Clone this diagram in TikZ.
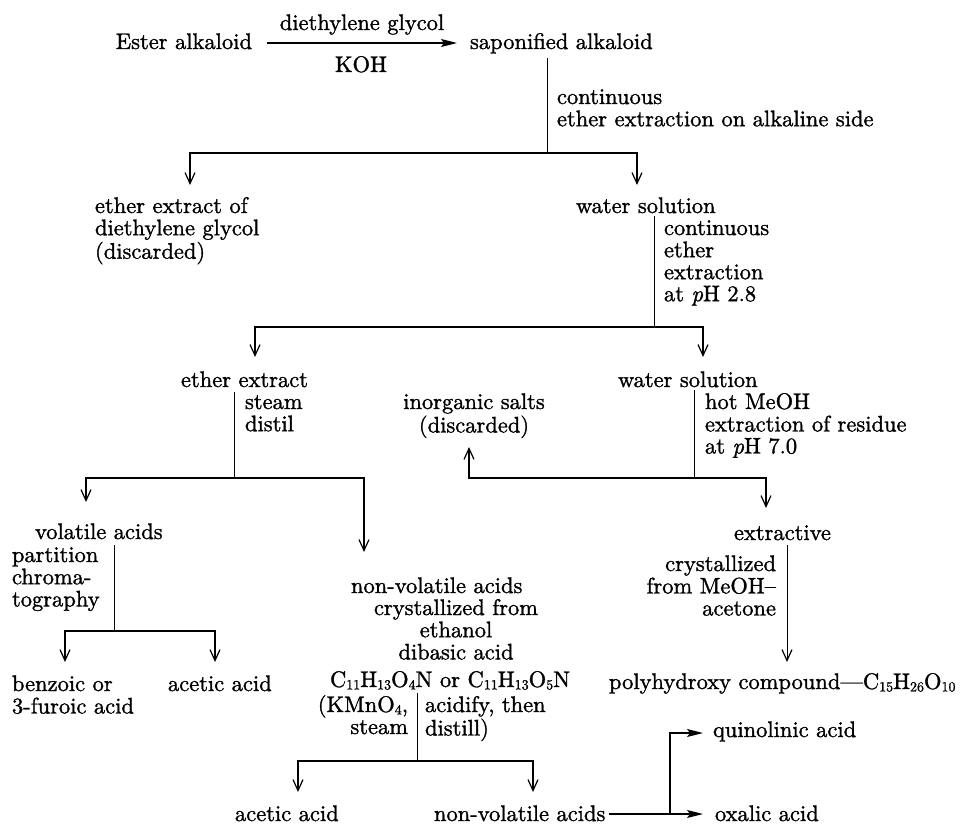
\documentclass[tikz,border=0pt]{standalone}
\usepackage{fontspec}
\setmainfont{lmroman10-regular.otf}[
  ItalicFont=lmroman10-italic.otf,
  BoldFont=lmroman10-bold.otf,
  RawFeature={embolden=1.3}]
\usetikzlibrary{arrows.meta}
\newcommand{\mylines}[2]{\begin{tabular}[t]{@{}#1@{}}#2\end{tabular}}
\newcommand{\sbs}[1]{\raisebox{-0.25ex}{\fontsize{14}{14}\selectfont #1}}
\begin{document}
\begin{tikzpicture}[x=1pt,y=1pt,
  txt/.style={inner sep=0pt, outer sep=0pt, font=\fontsize{22.5}{22}\selectfont},
  ln/.style={line width=0.9pt},
  arr/.style={line width=1.4pt, -{Straight Barb[length=11pt,width=10pt,line width=1.2pt]}},
  rxn/.style={line width=1.4pt, -{Stealth[length=16pt,width=8pt,inset=3pt]}}]
\useasboundingbox (0,0) rectangle (968,-824);

% text nodes
\node[txt, anchor=base east] (ester) at (252,-49) {Ester alkaloid};
\node[txt, anchor=base west] (sap) at (470,-49) {saponified alkaloid};
\node[txt, anchor=base] (dg) at (362,-30) {diethylene glycol};
\node[txt, anchor=base] (koh) at (361,-72) {KOH};
\node[txt, anchor=base west] (lab1) at (557,-104) {\mylines{l}{continuous\\ether extraction on alkaline side}};
\node[txt, anchor=base west] (ed) at (95,-213) {\mylines{l}{ether extract of\\diethylene glycol\\(discarded)}};
\node[txt, anchor=base west] (ws1) at (576,-213) {water solution};
\node[txt, anchor=base west] (lab2) at (664,-235) {\mylines{l}{continuous\\ether\\extraction\\at \textit{p}H 2.8}};
\node[txt, anchor=base west] (ee) at (181,-387) {ether extract};
\node[txt, anchor=base west] (ws2) at (618,-387) {water solution};
\node[txt, anchor=base west] (lab3) at (245,-409) {\mylines{l}{steam\\distil}};
\node[txt, anchor=base] (inorg) at (474,-409) {\mylines{c}{inorganic salts\\(discarded)}};
\node[txt, anchor=base west] (lab4) at (705,-409) {\mylines{l}{hot MeOH\\extraction of residue\\at \textit{p}H 7.0}};
\node[txt, anchor=base west] (va) at (35,-539) {volatile acids};
\node[txt, anchor=base west] (lab5) at (12,-562) {\mylines{l}{partition\\chroma-\\tography}};
\node[txt, anchor=base west] (nva) at (351,-593) {non-volatile acids};
\node[txt, anchor=base] (lab6) at (456,-615) {\mylines{c}{crystallized from\\ethanol\\dibasic acid}};
\node[txt, anchor=base west] (ext) at (734,-540) {extractive};
\node[txt, anchor=base east] (lab7) at (776,-571) {\mylines{r}{crystallized\\from MeOH\textendash\\acetone}};
\node[txt, anchor=base west] (benz) at (12,-691) {\mylines{l}{benzoic or\\3-furoic acid}};
\node[txt, anchor=base west] (ac1) at (168,-691) {acetic acid};
\node[txt, anchor=base west] (form) at (330,-687) {C\sbs{11}H\sbs{13}O\sbs{4}N or C\sbs{11}H\sbs{13}O\sbs{5}N};
\node[txt, anchor=base east] (lab8a) at (408,-712) {\mylines{r}{(KMnO\sbs{4},\\steam}};
\node[txt, anchor=base west] (lab8b) at (425,-712) {\mylines{l}{acidify, then\\distill)}};
\node[txt, anchor=base west] (poly) at (609,-689) {polyhydroxy compound\textemdash C\sbs{15}H\sbs{26}O\sbs{10}};
\node[txt, anchor=base west] (quin) at (713,-737) {quinolinic acid};
\node[txt, anchor=base west] (ac2) at (235,-821) {acetic acid};
\node[txt, anchor=base west] (nva2) at (434,-821) {non-volatile acids};
\node[txt, anchor=base west] (oxal) at (715,-821) {oxalic acid};

% junctions and arrow ends
\coordinate (j1) at (547,-153);
\coordinate (t1a) at (190,-185);
\coordinate (t1b) at (637,-185);
\coordinate (j2) at (654,-327);
\coordinate (t2a) at (255,-357);
\coordinate (t2b) at (703,-357);
\coordinate (j3) at (234,-478);
\coordinate (t3a) at (86,-502);
\coordinate (t3b) at (364,-552);
\coordinate (j4) at (694,-478);
\coordinate (t4a) at (469,-447);
\coordinate (t4b) at (766,-508);
\coordinate (j5) at (114,-631);
\coordinate (t5a) at (65,-662);
\coordinate (t5b) at (215,-662);
\coordinate (t6) at (787,-662);
\coordinate (j7) at (417,-761);
\coordinate (t7a) at (298,-792);
\coordinate (t7b) at (533,-792);
\coordinate (j8) at (670,-814);
\coordinate (t8) at (703,-814);
\coordinate (t9) at (703,-733);

% connectors
\draw[rxn] ([xshift=15pt,yshift=6pt]ester.base east) -- ([xshift=-13pt,yshift=6pt]sap.base west);

\draw[ln, shorten <=5pt] (sap.south -| j1) -- (j1);
\draw[arr] (j1) -| (t1a);
\draw[arr] (j1) -| (t1b);

\draw[ln, shorten <=3pt] (ws1.south -| j2) -- (j2);
\draw[arr] (j2) -| (t2a);
\draw[arr] (j2) -| (t2b);

\draw[ln, shorten <=5pt] (ee.south -| j3) -- (j3);
\draw[arr] (j3) -| (t3a);
\draw[arr] (j3) -| (t3b);

\draw[ln, shorten <=3pt] (ws2.south -| j4) -- (j4);
\draw[arr] (j4) -| (t4a);
\draw[arr] (j4) -| (t4b);

\draw[ln, shorten <=6pt] (va.south -| j5) -- (j5);
\draw[arr] (j5) -| (t5a);
\draw[arr] (j5) -| (t5b);

\draw[ln, shorten <=5pt, -{Straight Barb[length=11pt,width=10pt,line width=1.2pt]}] (ext.south -| t6) -- (t6);

\draw[ln, shorten <=3pt] (form.south -| j7) -- (j7);
\draw[arr] (j7) -| (t7a);
\draw[arr] (j7) -| (t7b);

\draw[rxn, shorten <=4pt] (nva2.east |- t8) -- (t8);
\draw[rxn] (j8) |- (t9);
\end{tikzpicture}
\end{document}
